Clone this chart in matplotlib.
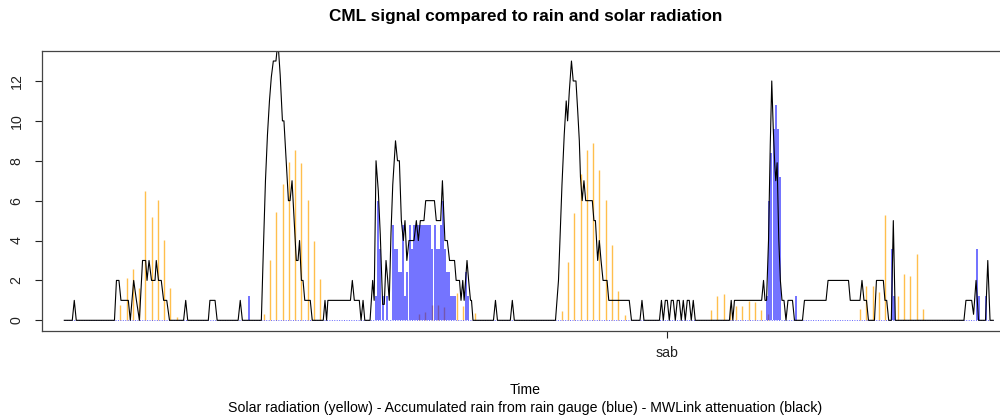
import numpy as np
import matplotlib
matplotlib.use("Agg")
import matplotlib.pyplot as plt

plt.rcParams['font.family'] = ['Liberation Sans', 'DejaVu Sans']

# MWLink attenuation (black line), time in hours from start of record
cml_t = [0.00, 0.64, 0.80, 0.96, 4.02, 4.18, 4.38, 4.54, 5.13, 5.29, 5.56, 5.78, 6.02,
         6.27, 6.52, 6.63, 6.79, 6.99, 7.27, 7.37, 7.55, 7.77, 7.96, 8.21, 8.43,
         9.56, 9.73, 9.89, 11.54, 11.67, 12.08, 12.25, 13.93, 14.10, 14.27,
         15.79, 15.95, 16.12, 16.28, 16.44, 16.59, 16.75, 16.96, 17.12, 17.30, 17.48,
         17.60, 17.96, 18.09, 18.25, 18.59, 18.73, 18.85, 19.00, 19.13, 19.27, 19.71,
         19.87, 20.75, 20.89, 21.02, 21.12, 22.93, 23.08, 23.24, 23.64, 23.78, 23.94,
         24.08, 24.50, 24.71, 24.83, 24.98, 25.16, 25.32, 25.51, 25.64, 25.78, 25.92,
         26.04, 26.18, 26.32, 26.54, 26.70, 26.85, 27.01, 27.17, 27.30, 27.45, 27.62,
         28.02, 28.21, 28.37, 28.53, 28.82, 28.96, 29.66, 29.81, 30.16, 30.30, 30.50,
         30.69, 30.87, 31.27, 31.40, 31.67, 31.79, 31.93, 32.04, 32.27, 32.40, 32.55,
         32.63, 32.75, 34.39, 34.55, 34.71, 35.74, 35.90, 36.06,
         39.36, 39.60, 39.74, 39.88, 40.06, 40.22, 40.33, 40.47, 40.64, 40.78, 41.00,
         41.14, 41.27, 41.36, 41.50, 41.64, 41.78, 42.31, 42.44, 42.56, 42.74, 42.87,
         43.01, 43.17, 43.49, 43.63, 45.27, 45.45, 46.13, 46.29, 46.45,
         47.69, 47.85, 48.00, 48.16, 48.32, 48.48, 48.64, 48.80, 48.96, 49.12, 49.28,
         49.44, 49.60, 49.76, 49.92, 50.08, 50.24, 50.40, 50.56,
         53.30, 53.44, 53.57, 53.70, 55.88, 56.03, 56.15, 56.27, 56.43, 56.57, 56.69,
         56.81, 56.93, 57.01, 57.12, 57.25, 57.38, 57.51, 57.67, 57.83, 57.99, 58.35,
         58.51, 59.15, 59.31, 61.04, 61.20, 62.84, 62.98, 63.76, 63.92, 64.08, 64.28,
         64.44, 64.92, 65.08, 65.63, 65.76, 65.90, 66.06, 66.27, 66.43, 66.59,
         72.09, 72.25, 72.71, 72.86, 73.06, 73.26, 73.82, 74.00, 74.18, 74.44]
cml_db = [0, 0, 1, 0, 0, 2, 2, 1, 1, 0, 2, 1, 0,
          3, 3, 2, 3, 2, 2, 3, 2, 2, 1, 1, 0,
          0, 1, 0, 0, 1, 1, 0, 0, 1, 0,
          0, 3.5, 7, 9.3, 11, 12.2, 13, 13, 14, 12.3, 10,
          10, 6, 6, 7, 3, 3, 4, 2, 2, 1, 1,
          0, 0, 1, 0, 1, 1, 2, 1, 1, 0, 1,
          0, 0, 2, 1, 8, 6.5, 4.3, 0.8, 0.8, 3, 2,
          1, 4.4, 6.8, 9, 8, 8, 5, 4, 5, 3, 4,
          4, 5, 4, 5, 5, 6, 6, 5, 5, 7, 4,
          4, 3, 3, 2, 2, 1, 2, 1, 3, 2, 1,
          1, 0, 0, 1, 0, 0, 1, 0,
          0, 2, 4.4, 6.8, 9.3, 11, 10, 11.5, 13, 12, 12,
          10.5, 9, 7.2, 6, 7, 6, 6, 5, 5, 3, 4,
          3, 2, 2, 1, 1, 0, 0, 1, 0,
          0, 1, 0, 1, 1, 0, 1, 1, 0, 1, 1,
          0, 1, 0, 1, 1, 0, 1, 0,
          0, 1, 0, 1, 1, 2, 1, 1, 4, 8.8, 12,
          9.6, 7.8, 7, 7.9, 4.1, 2, 1, 1, 0, 1, 1,
          0, 0, 1, 1, 2, 2, 1, 1, 2, 1, 1,
          0, 0, 2, 2, 1, 1, 0, 0, 5, 0,
          0, 1, 1, 0.3, 2, 0, 0, 3, 0, 0]

# Solar radiation (orange bars), half-hourly
solar_t = [4.5, 5.0, 5.5, 6.0, 6.5, 7.0, 7.5, 8.0, 8.5, 9.0,
           16.0, 16.5, 17.0, 17.5, 18.0, 18.5, 19.0, 19.5, 20.0, 20.5,
           28.42, 28.93, 29.43, 29.93, 30.43, 31.44, 31.93, 32.93,
           39.88, 40.39, 40.88, 41.38, 41.88, 42.39, 42.88, 43.38, 43.89, 44.39, 44.89,
           51.84, 52.34, 52.85, 53.34, 53.85, 54.34, 54.85, 55.35, 55.85, 56.35,
           63.78, 64.28, 64.78, 65.29, 65.78, 66.78, 67.29, 67.78, 68.29, 68.78]
solar_val = [0.75, 2.1, 2.57, 1.64, 6.48, 5.16, 6.01, 4.04, 1.64, 0.15,
             0.33, 3.0, 5.45, 6.85, 7.95, 8.55, 7.9, 6.03, 4.0, 2.05,
             0.3, 0.43, 0.77, 0.77, 0.65, 1.35, 0.7, 0.37,
             0.45, 2.9, 5.4, 7.35, 8.55, 8.87, 7.52, 6.03, 3.77, 1.46, 0.27,
             0.5, 1.2, 1.3, 0.7, 0.7, 0.7, 0.95, 0.9, 0.5, 0.33,
             0.57, 1.7, 1.74, 1.4, 5.28, 1.24, 2.3, 2.2, 3.3, 0.57]

# Rain gauge (blue bars), 10-minute step index from start
rain_step = [89,
             150, 151, 152, 153, 155, 158, 159, 160, 161, 162, 163, 164, 165, 166, 167,
             168, 169, 170, 171, 172, 173, 174, 175, 176, 177, 178, 179, 180, 181, 182,
             183, 184, 185, 186, 187, 188, 193, 194,
             338, 339, 340, 341, 342, 343, 344, 352,
             398, 399, 439, 440, 443]
rain_mm = [1.2,
           1.2, 6.0, 3.6, 1.2, 1.2, 4.8, 3.6, 3.6, 2.4, 2.4, 4.8, 1.2, 2.4, 4.8, 3.6,
           4.8, 4.8, 4.8, 4.8, 4.8, 4.8, 4.8, 4.8, 4.8, 3.6, 4.8, 3.6, 3.6, 4.8, 6.0,
           3.6, 2.4, 2.4, 1.2, 1.2, 1.2, 2.4, 1.2,
           1.2, 6.0, 8.4, 9.6, 10.8, 9.6, 7.2, 1.2,
           3.6, 1.2, 3.6, 1.2, 1.2]

t_sab = 48.33
t_end = 74.44

rain_t = np.array(rain_step) / 6.0

fig = plt.figure(figsize=(10, 4.18), dpi=100)
ax = fig.add_axes([0.0417, 0.2089, 0.9673, 0.6699])

ax.vlines(solar_t, 0, solar_val, colors='orange', alpha=0.7, lw=1.0)
ax.plot([0, t_end], [0, 0], color='blue', alpha=0.6, lw=0.7, ls=(0, (1, 1.5)))
ax.vlines(rain_t, 0, rain_mm, colors='blue', alpha=0.6, lw=1.3)
ax.plot(cml_t, cml_db, color='black', lw=0.8)

ax.set_xlim(-1.81, 75.70)
ax.set_ylim(-0.52, 13.52)
ax.spines['right'].set_visible(False)
for s in ['left', 'top', 'bottom']:
    ax.spines[s].set_color('#444444')
    ax.spines[s].set_linewidth(0.9)

ax.set_yticks([0, 2, 4, 6, 8, 10, 12])
ax.set_xticks([t_sab])
ax.set_xticklabels(['sab'])
ax.tick_params(axis='y', length=5, width=0.8, pad=8, labelsize=10.2, labelrotation=90, colors='#222222')
ax.tick_params(axis='x', length=5, width=0.8, pad=6, labelsize=10.2, colors='#222222')
for lab in ax.get_yticklabels():
    lab.set_va('center')

fig.text(0.5254, 1 - 17 / 418, 'CML signal compared to rain and solar radiation',
         ha='center', va='center', fontsize=12.3, fontweight='bold')
fig.text(0.5254, 1 - 390 / 418, 'Time', ha='center', va='center', fontsize=10.2)
fig.text(0.5254, 1 - 408 / 418,
         'Solar radiation (yellow) - Accumulated rain from rain gauge (blue) - MWLink attenuation (black)',
         ha='center', va='center', fontsize=10.2)

fig.savefig('out.png', dpi=100)
